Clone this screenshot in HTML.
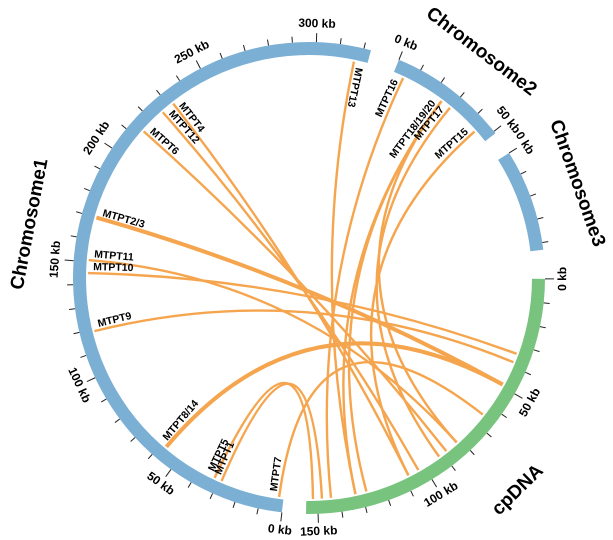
<!DOCTYPE html>
<html><head><meta charset="utf-8"><style>
html,body{margin:0;padding:0;background:#fff;}
svg{display:block;font-family:"Liberation Sans",Arial,sans-serif;}
</style></head><body>
<svg id="chart" width="613" height="540" viewBox="0 0 613 540" xmlns="http://www.w3.org/2000/svg">
<g id="links"></g>
<g id="bands"></g>
<g id="labels"></g>
</svg>
<script>
// ---- data ----
const chromNames = ["Chromosome1","Chromosome2","Chromosome3","cpDNA"];
const chromLengths = [323, 51, 43, 155];
const chromStartDeg = [186.6, 22.4, 58, 90.2];
const linkNames = ["MTPT7","MTPT1","MTPT5","MTPT8/14","MTPT9","MTPT10","MTPT11","MTPT2/3","MTPT6","MTPT12","MTPT4","MTPT13","MTPT16","MTPT18/19/20","MTPT17","MTPT15"];
const linkSrcChrom = [0,0,0,0,0,0,0,0,0,0,0,0,1,1,1,1];
const linkSrcPos = [2,28.6,32,57.5,119,145,150.8,170,214,226,232,317,4.8,24.7,29.5,44.7];
const linkTgtPos = [65,148,152,49,38,34,82,49,88,103,108,133,144,128,92,108];
const linkCount = [1,1,1,2,1,1,1,2,1,1,1,1,1,3,1,1];
const extraTriple = [133,82];
// ---- geometry ----
const CX=309, CY=278, R_OUT=236, R_IN=223, R_LINK=221, DEG_PER_KB=0.584;
const colors=["#7bafd4","#7bafd4","#7bafd4","#78c47f"];
const NS="http://www.w3.org/2000/svg";
function ang(ci,kb){return chromStartDeg[ci]+kb*DEG_PER_KB;}
function pt(deg,r){const a=deg*Math.PI/180;return [CX+r*Math.sin(a),CY-r*Math.cos(a)];}
function mk(tag,attrs,parent){const e=document.createElementNS(NS,tag);for(const k in attrs)e.setAttribute(k,attrs[k]);parent.appendChild(e);return e;}
function tangRot(deg){let a=deg; a=((a+180)%360+360)%360-180; if(Math.abs(a)>90)a+=180; return a;}
const gL=document.getElementById('links'),gB=document.getElementById('bands'),gT=document.getElementById('labels');
// bands
chromNames.forEach((n,ci)=>{
  const a0=ang(ci,0),a1=ang(ci,chromLengths[ci]);
  const p0=pt(a0,R_OUT),p1=pt(a1,R_OUT),q1=pt(a1,R_IN),q0=pt(a0,R_IN);
  const large=(a1-a0)>180?1:0;
  const band=mk('path',{d:`M${p0[0]},${p0[1]} A${R_OUT},${R_OUT} 0 ${large} 1 ${p1[0]},${p1[1]} L${q1[0]},${q1[1]} A${R_IN},${R_IN} 0 ${large} 0 ${q0[0]},${q0[1]} Z`,fill:colors[ci]},gB);
  
  
  for(let kb=0;kb<=chromLengths[ci];kb+=10){
    const major=kb%50===0;const a=ang(ci,kb);
    const t0=pt(a,R_OUT),t1=pt(a,R_OUT+(major?9:6));
    const tk=mk('line',{x1:t0[0],y1:t0[1],x2:t1[0],y2:t1[1],stroke:'#222','stroke-width':1},gB);
    
    
    if(major){
      const lp=pt(a,R_OUT+18);
      const tx=mk('text',{x:lp[0],y:lp[1],'font-size':12,'font-weight':'bold','text-anchor':'middle','dominant-baseline':'middle'},gT);
      tx.setAttribute('transform',`rotate(${tangRot(a)} ${lp[0]} ${lp[1]})`);
      tx.textContent=kb+' kb';
      
      
    }
  }
  const mid=ang(ci,chromLengths[ci]/2);const rr=ci===3?298:284;const np=pt(mid,rr);
  const nt=mk('text',{x:np[0],y:np[1],'font-size':19,'font-weight':'bold','text-anchor':'middle','dominant-baseline':'middle',transform:`rotate(${tangRot(mid)} ${np[0]} ${np[1]})`},gT);
  nt.textContent=n;
  
  
});
// links
function drawLink(ci,src,tgt,w){
  const a=ang(ci,src),b=ang(3,tgt);const p=pt(a,R_LINK),q=pt(b,R_LINK);
  const l=mk('path',{d:`M${p[0]},${p[1]} Q${CX},${CY} ${q[0]},${q[1]}`,fill:'none',stroke:'#f5a54e','stroke-width':w},gL);
  
  
}
linkNames.forEach((n,i)=>{
  const ci=linkSrcChrom[i];
  drawLink(ci,linkSrcPos[i],linkTgtPos[i],linkCount[i]===2?4:2.4);
  if(linkCount[i]===3){extraTriple.forEach(t=>drawLink(ci,linkSrcPos[i],t,2.4));}
  const a=ang(ci,linkSrcPos[i]);const sp=pt(a,216);
  let rot=Math.atan2(Math.cos(a*Math.PI/180),-Math.sin(a*Math.PI/180))*180/Math.PI;
  const an=((a%360)+360)%360;let anchor='start';
  if(an>15&&an<186){rot+=180;anchor='end';}
  const t=mk('text',{x:sp[0],y:sp[1],'font-size':10.5,'font-weight':'bold','text-anchor':anchor,dy:'-3',transform:`rotate(${rot} ${sp[0]} ${sp[1]})`},gT);
  t.textContent=n;
  
  
});
</script>
</body></html>
